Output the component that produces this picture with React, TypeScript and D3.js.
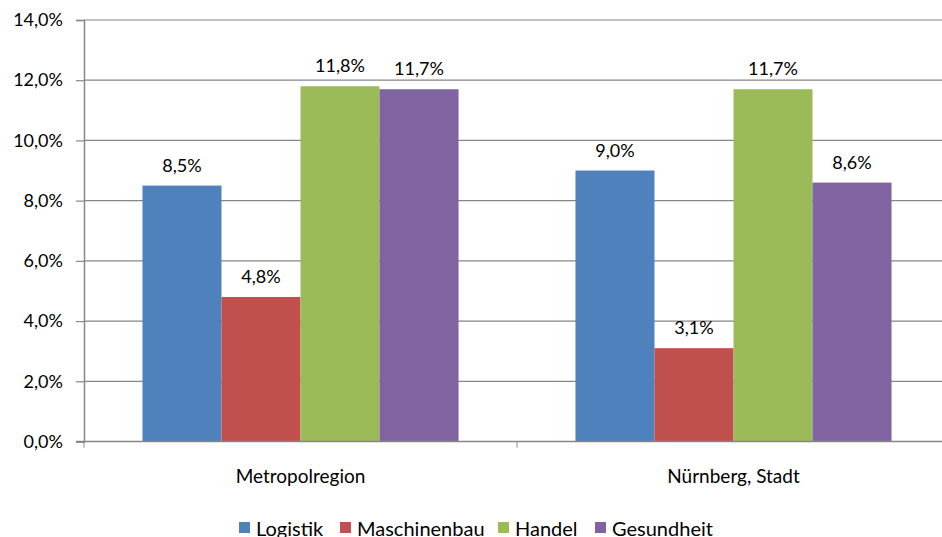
import React, { useEffect, useRef } from "react";
import * as d3 from "d3";

const regions = ["Metropolregion", "Nürnberg, Stadt"];
const sectors = ["Logistik", "Maschinenbau", "Handel", "Gesundheit"];
const colors = ["#4F81BD", "#C0504D", "#9BBB59", "#8064A2"];
// values per sector, in order of regions
const logistik = [8.5, 9.0];
const maschinenbau = [4.8, 3.1];
const handel = [11.8, 11.7];
const gesundheit = [11.7, 8.6];
const yTicks = [0, 2, 4, 6, 8, 10, 12, 14];

const fmt = (v: number, d: number) => v.toFixed(d).replace(".", ",") + "%";

export default function App() {
  const ref = useRef<SVGSVGElement>(null);

  useEffect(() => {
    const svg = d3.select(ref.current);
    svg.selectAll("*").remove();
    const font = "Lato, 'Open Sans', sans-serif";

    const left = 84, right = 950, top = 20, bottom = 441.5;
    const series = [logistik, maschinenbau, handel, gesundheit];

    const x = d3.scaleBand().domain(regions).range([left, right]);
    const x1 = d3.scaleBand().domain(sectors).range([0, x.bandwidth()]).paddingOuter(0.74).paddingInner(0);
    const y = d3.scaleLinear().domain([0, 14]).range([bottom, top]);

    // grid
    svg.append("g")
      .selectAll("line")
      .data(yTicks.filter(t => t > 0))
      .join("line")
      .attr("x1", left).attr("x2", right)
      .attr("y1", d => y(d)).attr("y2", d => y(d))
      .attr("stroke", "#868686").attr("stroke-width", 1.2);

    // bars
    regions.forEach((r, ri) => {
      const g = svg.append("g").attr("transform", `translate(${x(r)},0)`);
      g.selectAll("rect")
        .data(sectors)
        .join("rect")
        .attr("x", s => x1(s)!)
        .attr("width", x1.bandwidth())
        .attr("y", (s, i) => y(series[i][ri]))
        .attr("height", (s, i) => bottom - y(series[i][ri]))
        .attr("fill", (s, i) => colors[i]);
      g.selectAll("text")
        .data(sectors)
        .join("text")
        .attr("x", s => x1(s)! + x1.bandwidth() / 2)
        .attr("y", (s, i) => y(series[i][ri]) - 14)
        .attr("text-anchor", "middle")
        .attr("font-family", font)
        .attr("font-size", 18)
        .attr("fill", "#000")
        .text((s, i) => fmt(series[i][ri], 1));
    });

    // y axis
    const yAxis = d3.axisLeft(y).tickValues(yTicks).tickSize(8).tickFormat(d => fmt(+d, 1));
    const ya = svg.append("g").attr("transform", `translate(${left},0)`).call(yAxis);
    ya.select(".domain").attr("stroke", "#868686").attr("stroke-width", 1.5);
    ya.selectAll(".tick line").attr("stroke", "#868686").attr("stroke-width", 1.2);
    ya.selectAll(".tick text")
      .attr("x", -21)
      .attr("font-family", font).attr("font-size", 18).attr("fill", "#000");

    // x axis
    const xa = svg.append("g").attr("transform", `translate(0,${bottom})`);
    xa.append("line").attr("x1", left - 8).attr("x2", right)
      .attr("stroke", "#868686").attr("stroke-width", 1.5);
    xa.selectAll("line.t")
      .data([left, x(regions[1])!, right])
      .join("line")
      .attr("class", "t")
      .attr("x1", d => d).attr("x2", d => d)
      .attr("y1", 0).attr("y2", 6)
      .attr("stroke", "#868686");
    xa.selectAll("text")
      .data(regions)
      .join("text")
      .attr("x", d => x(d)! + x.bandwidth() / 2)
      .attr("y", 41)
      .attr("text-anchor", "middle")
      .attr("font-family", font).attr("font-size", 19).attr("fill", "#000")
      .text(d => d);

    // legend
    const legX = [239, 340, 498, 595];
    const lg = svg.append("g");
    sectors.forEach((s, i) => {
      lg.append("rect").attr("x", legX[i]).attr("y", 522).attr("width", 11).attr("height", 11).attr("fill", colors[i]);
      lg.append("text").attr("x", legX[i] + 17).attr("y", 536)
        .attr("font-family", font).attr("font-size", 20).attr("fill", "#000")
        .text(s);
    });
  }, []);

  return (
    <svg ref={ref} width={942} height={537}
      style={{ position: "absolute", left: 0, top: 0, background: "#fff" }} />
  );
}
